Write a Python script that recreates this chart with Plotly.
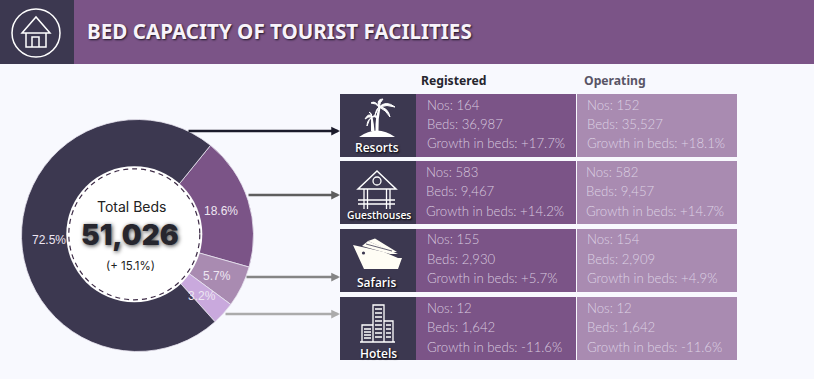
import plotly.graph_objects as go

W, H = 814, 379
DARK, PURPLE, LILAC, LIGHT = "#3C3850", "#7B5487", "#A98BB1", "#C9A9DD"
BG = "#F8F9FE"

TITLE = "BED CAPACITY OF TOURIST FACILITIES"
CATEGORIES = ["Guesthouses", "Safaris", "Hotels", "Resorts"]
SHARE_BEDS = [9467, 2930, 1642, 36987]
SHARE_TEXT = ["18.6%", "5.7%", "3.2%", "72.5%"]
SLICE_COLORS = [PURPLE, LILAC, LIGHT, DARK]

ROWS = ["Resorts", "Guesthouses", "Safaris", "Hotels"]
NAME_SIZE = [12, 10.3, 12, 12]
NAME_X = [376.5, 379, 376.5, 378]
REG_NOS = ["164", "583", "155", "12"]
REG_BEDS = ["36,987", "9,467", "2,930", "1,642"]
REG_GROWTH = ["+17.7%", "+14.2%", "+5.7%", "-11.6%"]
OP_NOS = ["152", "582", "154", "12"]
OP_BEDS = ["35,527", "9,457", "2,909", "1,642"]
OP_GROWTH = ["+18.1%", "+14.7%", "+4.9%", "-11.6%"]

ROW_TOP = [94, 161, 229, 297]
ROW_BOT = [157, 224, 292, 360]
LINE_Y = [[105, 124, 143], [172, 191, 211], [239, 259, 278], [308, 327, 347]]
NAME_Y = [147, 215, 282, 353]
ARROW_Y = [131, 195, 277, 314]
ARROW_X0 = [187, 247, 245, 224]
ARROW_C = ["#1B1B2B", "#5E5E5E", "#858585", "#ABABAB"]

fig = go.Figure()
CX, CY, R = 137.5, 235.5, 116
fig.add_trace(go.Pie(
    labels=CATEGORIES, values=SHARE_BEDS, hole=0.5, sort=False, direction="clockwise",
    rotation=39, textinfo="none", hoverinfo="label+percent",
    marker=dict(colors=SLICE_COLORS, line=dict(color="#E8E4F0", width=0.8)),
    domain=dict(x=[(CX - R) / W, (CX + R) / W], y=[1 - (CY + R) / H, 1 - (CY - R) / H]),
    showlegend=False,
))

shapes, ann = [], []
def rect(x0, y0, x1, y1, c, layer="below"):
    shapes.append(dict(type="rect", xref="x", yref="y", x0=x0, y0=y0, x1=x1, y1=y1,
                       fillcolor=c, line_width=0, layer=layer))
def path(d, fill=None, line=None, w=1.5):
    shapes.append(dict(type="path", xref="x", yref="y", path=d, layer="above",
                       fillcolor=fill or "rgba(0,0,0,0)",
                       line=dict(color=line or "rgba(0,0,0,0)", width=w if line else 0)))
def circle(cx, cy, r, fill=None, line=None, w=1.5, dash=None):
    shapes.append(dict(type="circle", xref="x", yref="y", x0=cx - r, y0=cy - r, x1=cx + r, y1=cy + r,
                       layer="above", fillcolor=fill or "rgba(0,0,0,0)",
                       line=dict(color=line or "rgba(0,0,0,0)", width=w if line else 0, dash=dash)))
def text(x, y, s, size, color, family="Lato", anchor="left", weight=None, shadow=None):
    f = dict(size=size, color=color, family=family)
    if weight: f["weight"] = weight
    if shadow: f["shadow"] = shadow
    ann.append(dict(xref="x", yref="y", x=x, y=y, text=s, showarrow=False, xanchor=anchor,
                    yanchor="middle", font=f))

# header
rect(0, 0, 74, 64, DARK)
rect(74, 0, W, 64, PURPLE)
circle(36, 33, 24, line="white", w=1.5)
path("M22 33 L36 17 L50 33 Z", line="white")
path("M26 33 L26 47 L46 47 L46 33", line="white")
path("M32 47 L32 37 L39 37 L39 47", line="white")
text(85, 31, TITLE, 20.6, "#F8F3FA", "Noto Sans", weight=700, shadow="1px 1px 2px #1e1626")

text(419, 80, "Registered", 12.2, "#26262E", "Noto Sans", weight=700)
text(582, 80, "Operating", 12.2, "#595566", "Noto Sans", weight=700)

# panels
for i, name in enumerate(ROWS):
    t, b = ROW_TOP[i], ROW_BOT[i]
    rect(340, t, 416, b, DARK)
    rect(416, t, 576, b, PURPLE)
    rect(577, t, 737, b, LILAC)
    dx = -1 if i == 1 else 0
    for x, col, vals in ((425 + dx, "#D8C9DF", (REG_NOS, REG_BEDS, REG_GROWTH)),
                         (585 + dx, "#DDD2E4", (OP_NOS, OP_BEDS, OP_GROWTH))):
        text(x, LINE_Y[i][0], f"Nos: {vals[0][i]}", 13.2, col, weight=300)
        text(x, LINE_Y[i][1], f"Beds: {vals[1][i]}", 13.2, col, weight=300)
        text(x, LINE_Y[i][2], f"Growth in beds: {vals[2][i]}", 13.2, col, weight=300)
    text(NAME_X[i], NAME_Y[i], name, NAME_SIZE[i], "white", "Open Sans", "center", weight=600, shadow="1px 1px 2px #000")
    ann.append(dict(xref="x", yref="y", axref="x", ayref="y", x=340, y=ARROW_Y[i], ax=ARROW_X0[i], ay=ARROW_Y[i],
                    text="", showarrow=True, arrowhead=2, arrowsize=0.7, arrowwidth=2.5, arrowcolor=ARROW_C[i]))

# centre
circle(134.3, 234.3, 68, fill="white")
circle(134.3, 234.3, 65.5, line="#3C2A45", w=1.2, dash="5px,4px")
text(131, 206, "Total Beds", 14, "#222222", "Inter", "center")
text(130, 235, "51,026", 28, "#26262E", "Inter", "center", weight=900, shadow="1px 1px 4px #444")
text(130, 266, "(+ 15.1%)", 11.5, "#222222", "Inter", "center")

# slice labels
for lab, x, y in zip(SHARE_TEXT, (221, 217, 202, 49), (211, 276, 296, 240)):
    text(x, y, lab, 12, "#EDE6F2", "Liberation Sans", "center")

W_ = "white"
CREAM = "#FFFDF5"
# palm icon
path("M359 137 Q377 124 395 137 Z", fill=W_)
path("M375.5 131 Q375 117 379 107 L380.5 107 Q378 119 378.5 131 Z", fill=W_)
path("M371 131 Q371 124 371 117 L372.5 117 Q374 124 374.5 131 Z", fill=W_)
path("M379 107 Q375 100 371 103 Q376 103 379 107 Z M379 107 Q376 99 383 99 Q380 102 379 107 Z "
     "M379 107 Q386 100 395 107 Q387 104 379 107 Z M379 107 Q388 107 390 117 Q386 110 379 107 Z "
     "M379 107 Q377 111 375 115 Q376 109 379 107 Z", fill=W_, line=W_, w=1)
path("M372 117 Q369 112 365 119 Q369 116 372 117 Z M372 117 Q370 112 369 112 Q372 113 372 117 Z "
     "M372 117 Q377 113 377 118 Q375 116 372 117 Z M372 117 Q369 119 367 126 Q367 120 372 117 Z", fill=W_, line=W_, w=1)
# guesthouse icon
path("M358 189 L377 171 L396 189 Z", line=W_)
circle(377, 181, 4, line=W_, w=1.3)
path("M358 200 L395 200 M364 189 L364 209 M367.5 189 L367.5 209 M386.5 189 L386.5 209 M390 189 L390 209 M358 204 L395 204", line=W_, w=1.3)
# ship icon
path("M353 245 L362 247 L384 252 L398 258 L402 258 L398 269 L364 269 Q358 256 353 245 Z", fill=CREAM)
path("M362 246 L368 241 L398 254 L390 254 Z", fill=CREAM)
path("M368 241 L375 238.5 L397 252 L392 252 Z", fill=CREAM)
path("M366 244 L392 251", line=DARK, w=0.8)
circle(363.5, 253, 1.6, fill=DARK)
# hotels icon
path("M373 342 L373 305 L384 305 L384 342", line=W_, w=1.3)
path("M375 309 L382 309 M375 313 L382 313 M375 317 L382 317 M375 321 L382 321 M375 325 L382 325 "
     "M375 329 L382 329 M375 333 L382 333 M375 337 L382 337", line=W_, w=1.4)
path("M362 342 L362 325 L373 325 M384 321 L393 321 L393 342 M360 342 L395 342", line=W_, w=1.3)
path("M364 329 L371 329 M364 332 L371 332 M364 335 L371 335 M364 338 L371 338 "
     "M386 325 L391 325 M386 329 L391 329 M386 333 L391 333 M386 337 L391 337", line=W_, w=1.4)

fig.update_layout(
    width=W, height=H, margin=dict(l=0, r=0, t=0, b=0),
    paper_bgcolor=BG, plot_bgcolor="rgba(0,0,0,0)",
    xaxis=dict(range=[0, W], visible=False, fixedrange=True),
    yaxis=dict(range=[H, 0], visible=False, fixedrange=True),
    shapes=shapes, annotations=ann,
)
fig.write_html("out.html", config=dict(displayModeBar=False),
               post_script="document.body.style.margin='0';document.body.style.overflow='hidden';")
